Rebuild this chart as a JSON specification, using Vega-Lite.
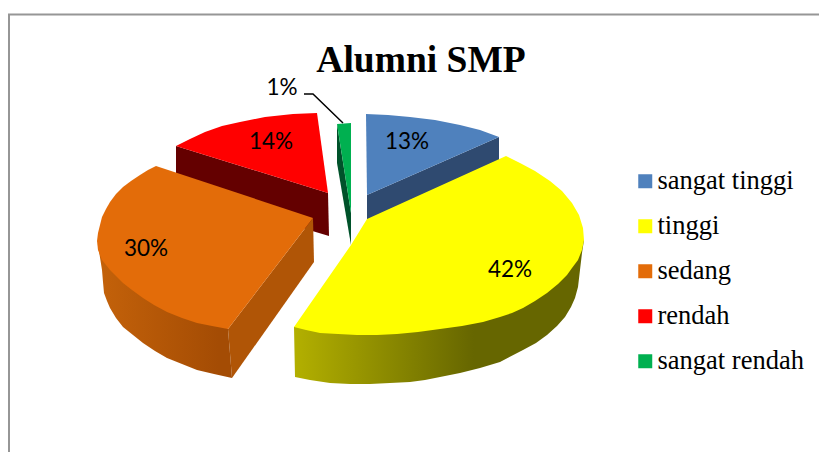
{
"$schema":"https://vega.github.io/schema/vega-lite/v6.json",
"width":819,"height":452,"padding":0,"autosize":{"type":"none"},
"background":"white",
"view":{"stroke":null},
"title":{"text":"Alumni SMP","font":"Liberation Serif","fontSize":37.5,"fontWeight":"bold","color":"#000000","anchor":"middle","dx":11.5,"offset":-109,"baseline":"alphabetic"},
"datasets":{
"frame":[{"i":0,"x":9,"y":452},{"i":1,"x":9,"y":14.5},{"i":2,"x":819,"y":14.5}],
"leader":[{"i":0,"x":304,"y":94},{"i":1,"x":313,"y":94},{"i":2,"x":343,"y":123}],
"labels":[
{"slice":"sangat tinggi","label":"13%","x":407,"y":142},
{"slice":"tinggi","label":"42%","x":510,"y":270},
{"slice":"sedang","label":"30%","x":146,"y":249},
{"slice":"rendah","label":"14%","x":271,"y":142},
{"slice":"sangat rendah","label":"1%","x":282,"y":88}],
"sides":[
{"face":"blue","i":0,"x":367,"y":195},{"face":"blue","i":1,"x":499,"y":137},{"face":"blue","i":2,"x":499,"y":160},{"face":"blue","i":3,"x":367,"y":220},
{"face":"red","i":0,"x":176,"y":146},{"face":"red","i":1,"x":328,"y":193},{"face":"red","i":2,"x":329,"y":236},{"face":"red","i":3,"x":176,"y":190},
{"face":"green","i":0,"x":337,"y":124},{"face":"green","i":1,"x":351,"y":213},{"face":"green","i":2,"x":351,"y":245},{"face":"green","i":3,"x":337,"y":163},
{"face":"orange","i":0,"x":313,"y":218},{"face":"orange","i":1,"x":314,"y":262},{"face":"orange","i":2,"x":232,"y":378},{"face":"orange","i":3,"x":228,"y":329}],
"yellowRim":[
{"i":0,"x":294,"y":327},{"i":1,"x":295,"y":377},{"i":2,"x":310,"y":380},{"i":3,"x":330,"y":383},{"i":4,"x":350,"y":384},{"i":5,"x":370,"y":384},{"i":6,"x":390,"y":383},{"i":7,"x":410,"y":382},{"i":8,"x":425,"y":380},{"i":9,"x":440,"y":377},{"i":10,"x":460,"y":373},{"i":11,"x":480,"y":368},{"i":12,"x":500,"y":362},{"i":13,"x":523,"y":350},{"i":14,"x":536,"y":343},{"i":15,"x":547,"y":335},{"i":16,"x":557,"y":326},{"i":17,"x":565,"y":317},{"i":18,"x":571,"y":307},{"i":19,"x":575,"y":298},{"i":20,"x":578,"y":287},{"i":21,"x":580,"y":270},{"i":22,"x":582,"y":253},{"i":23,"x":584,"y":240},{"i":24,"x":400,"y":300}],
"orangeRim":[
{"i":0,"x":98,"y":245},{"i":1,"x":102,"y":270},{"i":2,"x":103,"y":282},{"i":3,"x":104,"y":293},{"i":4,"x":107,"y":301},{"i":5,"x":110,"y":308},{"i":6,"x":116,"y":318},{"i":7,"x":123,"y":327},{"i":8,"x":133,"y":335},{"i":9,"x":143,"y":343},{"i":10,"x":155,"y":351},{"i":11,"x":167,"y":358},{"i":12,"x":182,"y":364},{"i":13,"x":197,"y":370},{"i":14,"x":214,"y":374},{"i":15,"x":232,"y":378},{"i":16,"x":228,"y":329},{"i":17,"x":180,"y":280}],
"tops":[
{"slice":"sangat tinggi","i":0,"x":367,"y":195},{"slice":"sangat tinggi","i":1,"x":366,"y":114},{"slice":"sangat tinggi","i":2,"x":388,"y":115},{"slice":"sangat tinggi","i":3,"x":410,"y":117},{"slice":"sangat tinggi","i":4,"x":435,"y":120},{"slice":"sangat tinggi","i":5,"x":460,"y":125},{"slice":"sangat tinggi","i":6,"x":480,"y":130},{"slice":"sangat tinggi","i":7,"x":499,"y":137},
{"slice":"rendah","i":0,"x":328,"y":193},{"slice":"rendah","i":1,"x":317,"y":113},{"slice":"rendah","i":2,"x":293,"y":114},{"slice":"rendah","i":3,"x":265,"y":117},{"slice":"rendah","i":4,"x":240,"y":122},{"slice":"rendah","i":5,"x":222,"y":126},{"slice":"rendah","i":6,"x":205,"y":132},{"slice":"rendah","i":7,"x":190,"y":139},{"slice":"rendah","i":8,"x":176,"y":146},
{"slice":"sangat rendah","i":0,"x":337,"y":124},{"slice":"sangat rendah","i":1,"x":351,"y":123},{"slice":"sangat rendah","i":2,"x":351,"y":213},
{"slice":"sedang","i":0,"x":156,"y":166},{"slice":"sedang","i":1,"x":313,"y":218},{"slice":"sedang","i":2,"x":228,"y":329},{"slice":"sedang","i":3,"x":212,"y":326},{"slice":"sedang","i":4,"x":197,"y":323},{"slice":"sedang","i":5,"x":182,"y":318},{"slice":"sedang","i":6,"x":167,"y":312},{"slice":"sedang","i":7,"x":154,"y":305},{"slice":"sedang","i":8,"x":143,"y":298},{"slice":"sedang","i":9,"x":132,"y":290},{"slice":"sedang","i":10,"x":123,"y":283},{"slice":"sedang","i":11,"x":116,"y":276},{"slice":"sedang","i":12,"x":110,"y":270},{"slice":"sedang","i":13,"x":102,"y":260},{"slice":"sedang","i":14,"x":98,"y":250},{"slice":"sedang","i":15,"x":97,"y":241},{"slice":"sedang","i":16,"x":98,"y":233},{"slice":"sedang","i":17,"x":100,"y":225},{"slice":"sedang","i":18,"x":102,"y":217},{"slice":"sedang","i":19,"x":106,"y":209},{"slice":"sedang","i":20,"x":110,"y":202},{"slice":"sedang","i":21,"x":116,"y":194},{"slice":"sedang","i":22,"x":123,"y":187},{"slice":"sedang","i":23,"x":131,"y":181},{"slice":"sedang","i":24,"x":140,"y":175},{"slice":"sedang","i":25,"x":148,"y":170},
{"slice":"tinggi","i":0,"x":294,"y":327},{"slice":"tinggi","i":1,"x":351,"y":245},{"slice":"tinggi","i":2,"x":367,"y":219},{"slice":"tinggi","i":3,"x":506,"y":156},{"slice":"tinggi","i":4,"x":520,"y":163},{"slice":"tinggi","i":5,"x":535,"y":171},{"slice":"tinggi","i":6,"x":550,"y":181},{"slice":"tinggi","i":7,"x":562,"y":191},{"slice":"tinggi","i":8,"x":572,"y":203},{"slice":"tinggi","i":9,"x":579,"y":215},{"slice":"tinggi","i":10,"x":583,"y":228},{"slice":"tinggi","i":11,"x":584,"y":240},{"slice":"tinggi","i":12,"x":582,"y":250},{"slice":"tinggi","i":13,"x":578,"y":260},{"slice":"tinggi","i":14,"x":572,"y":268},{"slice":"tinggi","i":15,"x":567,"y":275},{"slice":"tinggi","i":16,"x":558,"y":284},{"slice":"tinggi","i":17,"x":547,"y":293},{"slice":"tinggi","i":18,"x":535,"y":301},{"slice":"tinggi","i":19,"x":523,"y":308},{"slice":"tinggi","i":20,"x":512,"y":313},{"slice":"tinggi","i":21,"x":500,"y":317},{"slice":"tinggi","i":22,"x":483,"y":322},{"slice":"tinggi","i":23,"x":462,"y":326},{"slice":"tinggi","i":24,"x":440,"y":329},{"slice":"tinggi","i":25,"x":418,"y":332},{"slice":"tinggi","i":26,"x":397,"y":334},{"slice":"tinggi","i":27,"x":377,"y":335},{"slice":"tinggi","i":28,"x":357,"y":335},{"slice":"tinggi","i":29,"x":338,"y":334},{"slice":"tinggi","i":30,"x":320,"y":333},{"slice":"tinggi","i":31,"x":306,"y":330}]
},
"encoding":{
"x":{"field":"x","type":"quantitative","axis":null,"scale":{"domain":[0,819],"nice":false,"zero":false}},
"y":{"field":"y","type":"quantitative","axis":null,"scale":{"domain":[0,452],"reverse":true,"nice":false,"zero":false}},
"order":{"field":"i","type":"quantitative"}
},
"layer":[
{"data":{"name":"frame"},"mark":{"type":"line","stroke":"#969696","strokeWidth":2}},
{"data":{"name":"sides"},"mark":{"type":"line","filled":true,"strokeWidth":0},
 "encoding":{"color":{"field":"face","type":"nominal","legend":null,"scale":{"domain":["blue","red","green","orange"],"range":["#2f4a70","#640000","#00522a","#b05506"]}}}},
{"data":{"name":"yellowRim"},"mark":{"type":"line","filled":true,"strokeWidth":0,"fill":{"gradient":"linear","x1":0,"x2":1,"y1":0,"y2":0,"stops":[{"offset":0,"color":"#b3b000"},{"offset":0.62,"color":"#666600"},{"offset":1,"color":"#666600"}]}}},
{"data":{"name":"orangeRim"},"mark":{"type":"line","filled":true,"strokeWidth":0,"fill":{"gradient":"linear","x1":0,"x2":1,"y1":0,"y2":0,"stops":[{"offset":0,"color":"#c4620a"},{"offset":0.9,"color":"#a44c04"},{"offset":1,"color":"#a44c04"}]}}},
{"data":{"name":"tops"},"mark":{"type":"line","filled":true,"strokeWidth":0},
 "encoding":{"color":{"field":"slice","type":"nominal",
  "scale":{"domain":["sangat tinggi","tinggi","sedang","rendah","sangat rendah"],"range":["#4f81bd","#ffff00","#e36c09","#ff0000","#00b050"]},
  "legend":{"title":null,"orient":"none","legendX":632,"legendY":168,"symbolType":"square","symbolSize":196,"symbolStrokeWidth":0,"labelFont":"Liberation Serif","labelFontSize":26.5,"labelColor":"#000000","labelOffset":-1,"rowPadding":18,"padding":0,"labelLimit":300,"values":["sangat tinggi","tinggi","sedang","rendah","sangat rendah"]}}}},
{"data":{"name":"leader"},"mark":{"type":"line","stroke":"#000000","strokeWidth":1.5}},
{"data":{"name":"labels"},"mark":{"type":"text","font":"Lato","fontSize":22.5,"color":"#000000","align":"center","baseline":"middle"},"encoding":{"text":{"field":"label","type":"nominal"},"order":null}}
],
"resolve":{"scale":{"color":"independent"}}
}
